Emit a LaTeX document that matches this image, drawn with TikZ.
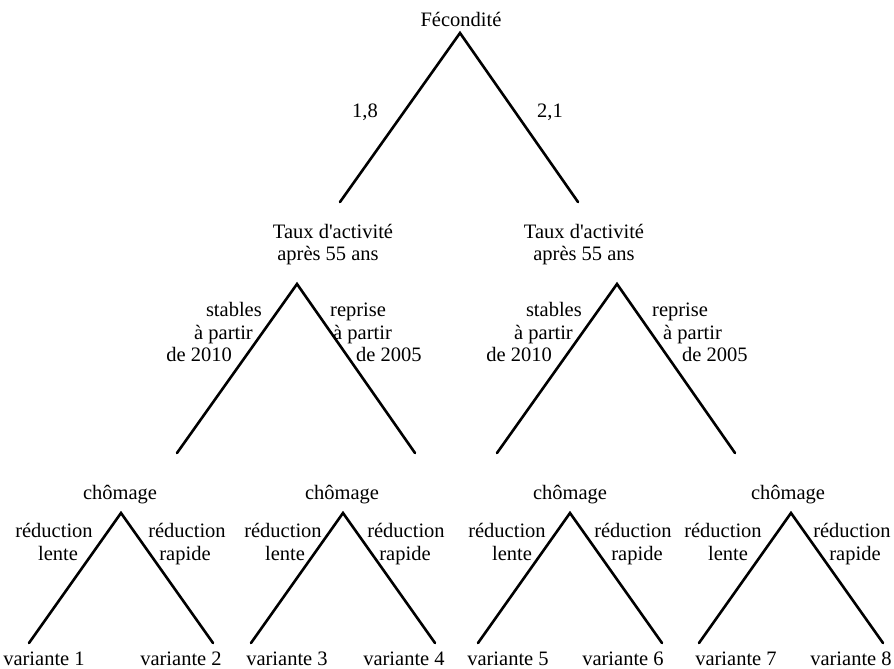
\documentclass[tikz,border=0pt]{standalone}
\usepackage{fontspec}
\setmainfont{Liberation Serif}

\begin{document}
\begin{tikzpicture}[x=1pt,y=-1pt,
  txt/.style={inner sep=0pt,font=\fontsize{20.5}{23}\selectfont,anchor=base},
  lft/.style={txt,anchor=base east},
  rgt/.style={txt,anchor=base west},
  branch/.style={line width=2.6pt,line cap=round}]
\useasboundingbox (0,0) rectangle (894,669);
% fecondite
\node[txt] (fec) at (461,27) {Fécondité};
\coordinate (fecA) at (460,33);
\coordinate (fecL) at (340,202);
\coordinate (fecR) at (578,202);
\draw[branch] (fecL) -- (fecA) -- (fecR);
\node[txt] (fec18) at (365,117) {1,8};
\node[txt] (fec21) at (550,117) {2,1};
% taux d'activite, branche 1,8
\node[txt] (taxL1) at (333,238) {Taux d\textquotesingle activité};
\node[txt] (taxL2) at (328,260) {après 55 ans};
\coordinate (taxLA) at (297,284);
\coordinate (taxLL) at (177,453);
\coordinate (taxLR) at (415,453);
\draw[branch] (taxLL) -- (taxLA) -- (taxLR);
\node[lft] (stL1) at (262,316) {stables};
\node[lft] (stL2) at (253,339) {à partir};
\node[lft] (stL3) at (232,361) {de 2010};
\node[rgt] (reL1) at (330,316) {reprise};
\node[rgt] (reL2) at (333,339) {à partir};
\node[rgt] (reL3) at (356,361) {de 2005};
% taux d'activite, branche 2,1
\node[txt] (taxR1) at (584,238) {Taux d\textquotesingle activité};
\node[txt] (taxR2) at (584,260) {après 55 ans};
\coordinate (taxRA) at (617,284);
\coordinate (taxRL) at (497,453);
\coordinate (taxRR) at (735,453);
\draw[branch] (taxRL) -- (taxRA) -- (taxRR);
\node[lft] (stR1) at (582,316) {stables};
\node[lft] (stR2) at (573,339) {à partir};
\node[lft] (stR3) at (552,361) {de 2010};
\node[rgt] (reR1) at (652,316) {reprise};
\node[rgt] (reR2) at (663,339) {à partir};
\node[rgt] (reR3) at (682,361) {de 2005};
% chomage et variantes
\foreach \k/\ax/\ch/\rl/\le/\rr/\ra/\va/\vb/\na/\nb in {
  1/121/120/54/58/187/185/44/181/1/2,
  2/343/342/283/285/406/405/287/404/3/4,
  3/570/570/507/512/633/637/508/623/5/6,
  4/791/788/723/728/852/855/736/851/7/8}{
  \node[txt] (cho\k) at (\ch,499) {chômage};
  \coordinate (choA\k) at (\ax,513);
  \coordinate (choL\k) at (\ax-92,643);
  \coordinate (choR\k) at (\ax+92,643);
  \draw[branch] (choL\k) -- (choA\k) -- (choR\k);
  \node[txt] (redL\k) at (\rl,537) {réduction};
  \node[txt] (len\k) at (\le,560) {lente};
  \node[txt] (redR\k) at (\rr,537) {réduction};
  \node[txt] (rap\k) at (\ra,560) {rapide};
  \node[txt] (var\na) at (\va,665) {variante \na};
  \node[txt] (var\nb) at (\vb,665) {variante \nb};
}
\end{tikzpicture}
\end{document}
